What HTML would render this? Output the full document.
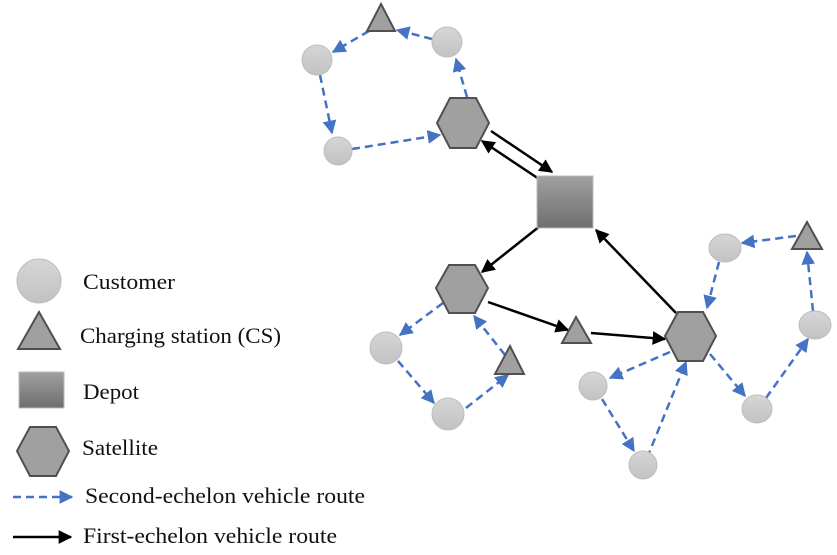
<!DOCTYPE html>
<html><head><meta charset="utf-8"><style>
html,body{margin:0;padding:0;background:#fff;}
svg{display:block;}
text{font-family:"Liberation Serif",serif;font-size:22px;fill:#111;}
</style></head><body>
<svg width="837" height="555" viewBox="0 0 837 555" xmlns="http://www.w3.org/2000/svg">
<defs>
<linearGradient id="cg" x1="0" y1="0" x2="0" y2="1"><stop offset="0" stop-color="#d6d6d6"/><stop offset="1" stop-color="#c2c2c2"/></linearGradient>
<linearGradient id="sg" x1="0" y1="0" x2="0" y2="1"><stop offset="0" stop-color="#a0a0a0"/><stop offset="1" stop-color="#6e6e6e"/></linearGradient>
<marker id="bm" viewBox="0 0 10 10" refX="9" refY="5" markerWidth="5.5" markerHeight="5.5" orient="auto"><path d="M0,0 L10,5 L0,10 z" fill="#4472c4"/></marker>
<marker id="km" viewBox="0 0 10 10" refX="9" refY="5" markerWidth="5.5" markerHeight="5.5" orient="auto"><path d="M0,0 L10,5 L0,10 z" fill="#000"/></marker>
</defs>
<g stroke="#4472c4" stroke-width="2.5" stroke-dasharray="8,5" marker-end="url(#bm)" fill="none">
<line x1="467" y1="97" x2="456" y2="59"/>
<line x1="432" y1="39" x2="397" y2="30"/>
<line x1="369" y1="31" x2="333" y2="52"/>
<line x1="320" y1="75" x2="332" y2="133"/>
<line x1="352" y1="149" x2="440" y2="135"/>
<line x1="443" y1="303" x2="400" y2="335"/>
<line x1="398" y1="361" x2="434" y2="403"/>
<line x1="466" y1="408" x2="508" y2="375"/>
<line x1="505" y1="355" x2="474" y2="316"/>
<line x1="670" y1="352" x2="610" y2="378"/>
<line x1="602" y1="399" x2="634" y2="451"/>
<line x1="647" y1="458" x2="686" y2="362"/>
<line x1="710" y1="354" x2="745" y2="396"/>
<line x1="766" y1="398" x2="808" y2="339"/>
<line x1="813" y1="311" x2="807" y2="252"/>
<line x1="796" y1="236" x2="742" y2="243"/>
<line x1="719" y1="262" x2="707" y2="308"/>
<line x1="13" y1="497" x2="72" y2="497"/>
</g>
<g stroke="#000" stroke-width="2.5" marker-end="url(#km)" fill="none">
<line x1="491" y1="131" x2="552" y2="172"/>
<line x1="539" y1="179" x2="482" y2="141"/>
<line x1="540" y1="226" x2="482" y2="272"/>
<line x1="488" y1="302" x2="568" y2="330"/>
<line x1="591" y1="333" x2="665" y2="339"/>
<line x1="676" y1="313" x2="596" y2="230"/>
<line x1="13" y1="537" x2="71" y2="537"/>
</g>
<g fill="url(#cg)" stroke="#bdbdbd" stroke-width="1">
<circle cx="447" cy="42" r="15"/><circle cx="317" cy="60" r="15"/><circle cx="338" cy="151" r="14"/>
<circle cx="386" cy="348" r="16"/><circle cx="448" cy="414" r="16"/>
<ellipse cx="725" cy="248" rx="16" ry="14"/><ellipse cx="815" cy="325" rx="16" ry="14"/>
<circle cx="593" cy="386" r="14"/><circle cx="643" cy="465" r="14"/><ellipse cx="757" cy="409" rx="15" ry="14"/>
<circle cx="39" cy="281" r="22"/>
</g>
<g fill="#a0a0a0" stroke="#505050" stroke-width="2">
<polygon points="381,4 395,31 367,31"/>
<polygon points="576,317 591,343 562,343"/>
<polygon points="510,346 524,374 495,374"/>
<polygon points="807,222 822,249 792,249"/>
<polygon points="39,312 60,349 18,349"/>
<polygon points="437,123 450,98 476,98 489,123 476,148 450,148"/>
<polygon points="436,288 449,265 475,265 488,288 475,313 449,313"/>
<polygon points="665,336 678,312 703,312 716,336 703,361 678,361"/>
<polygon points="17,451 30,427 56,427 69,451 56,476 30,476"/>
</g>
<rect x="537" y="176" width="56" height="52" fill="url(#sg)" stroke="#bbb" stroke-width="1"/>
<rect x="19" y="372" width="45" height="36" fill="url(#sg)" stroke="#bbb" stroke-width="1"/>
<text x="83" y="289" textLength="92" lengthAdjust="spacingAndGlyphs">Customer</text>
<text x="80" y="343" textLength="201" lengthAdjust="spacingAndGlyphs">Charging station (CS)</text>
<text x="83" y="399" textLength="56" lengthAdjust="spacingAndGlyphs">Depot</text>
<text x="82" y="455" textLength="76" lengthAdjust="spacingAndGlyphs">Satellite</text>
<text x="85" y="503" textLength="280" lengthAdjust="spacingAndGlyphs">Second-echelon vehicle route</text>
<text x="83" y="543" textLength="254" lengthAdjust="spacingAndGlyphs">First-echelon vehicle route</text>
</svg>
</body></html>
